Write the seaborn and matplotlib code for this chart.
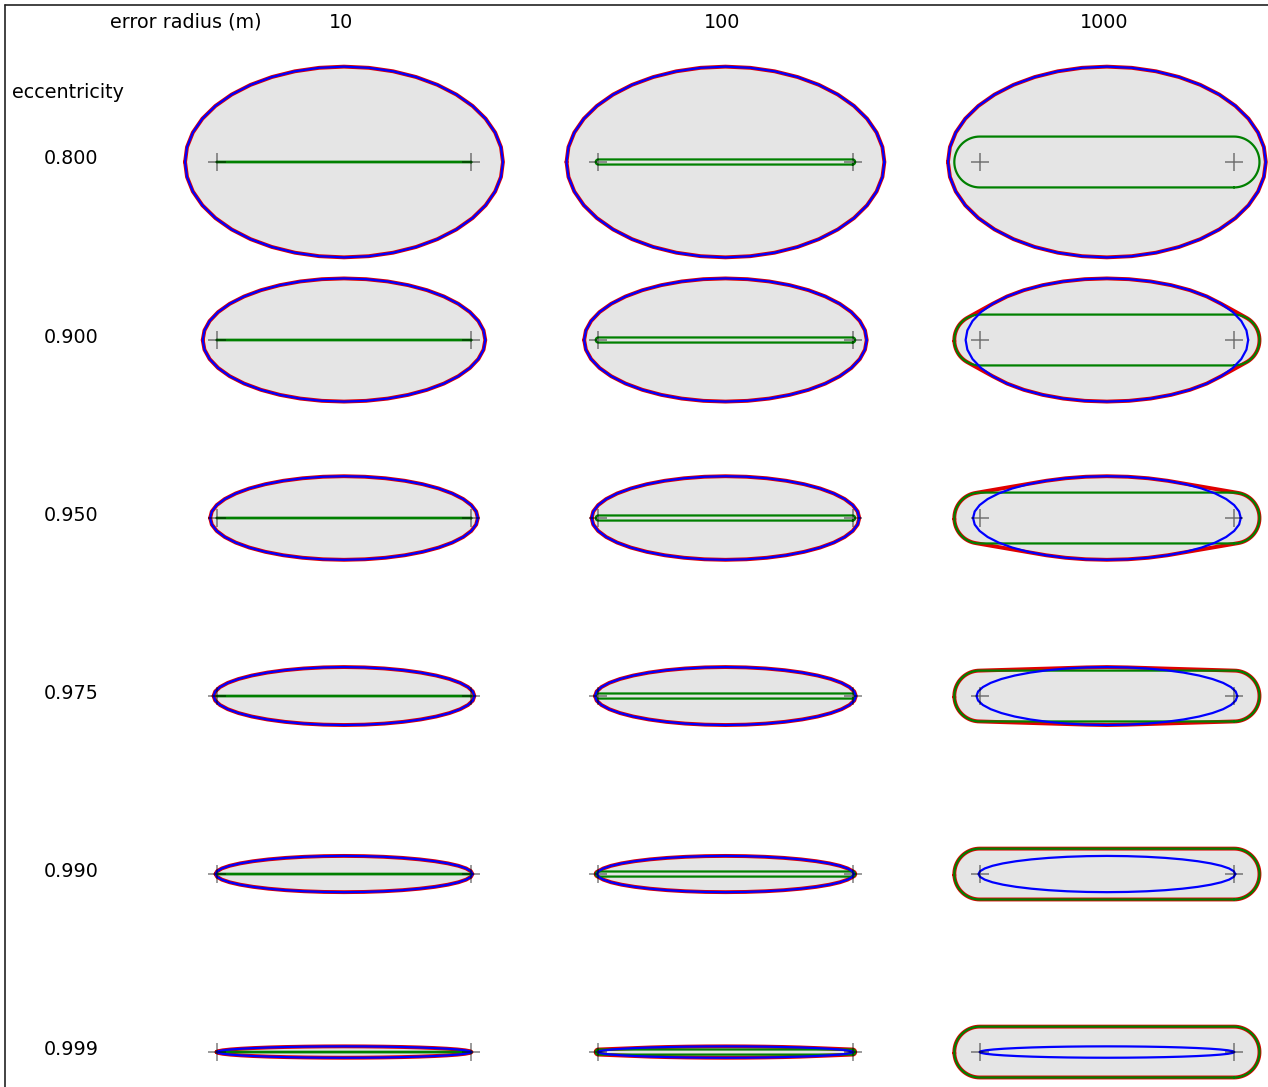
import numpy as np
import pandas as pd
import matplotlib
matplotlib.use("Agg")
import matplotlib.pyplot as plt
from matplotlib.lines import Line2D
import seaborn as sns

# Grid parameters (metres)
eccentricities = [0.800, 0.900, 0.950, 0.975, 0.990, 0.999]
error_radii = [10, 100, 1000]
focal_half_distance = 5000.0
col_spacing = 15000.0
row_spacing = 7000.0

sns.set_theme(style="white")
plt.rcParams["font.family"] = ["DejaVu Sans"]
plt.rcParams["text.color"] = "black"

W, H, DPI = 1268, 1087, 100
fig = plt.figure(figsize=(W / DPI, H / DPI), dpi=DPI)
ax = fig.add_axes([0, 0, 1, 1])

# pixel <-> metre mapping (equal aspect)
scale = 0.02543          # px per metre
x0_px, y0_px = 344.0, 162.0
ax.set_xlim(-x0_px / scale, (W - x0_px) / scale)
ax.set_ylim(-(H - y0_px) / scale, y0_px / scale)
ax.set_axis_off()


def px(xp, yp):
    return (xp - x0_px) / scale, (y0_px - yp) / scale


def convex_hull(points):
    pts = sorted(set(map(tuple, np.round(points, 6))))
    def cross(o, a, b):
        return (a[0] - o[0]) * (b[1] - o[1]) - (a[1] - o[1]) * (b[0] - o[0])
    lower, upper = [], []
    for p in pts:
        while len(lower) >= 2 and cross(lower[-2], lower[-1], p) <= 0:
            lower.pop()
        lower.append(p)
    for p in reversed(pts):
        while len(upper) >= 2 and cross(upper[-2], upper[-1], p) <= 0:
            upper.pop()
        upper.append(p)
    hull = np.array(lower[:-1] + upper[:-1])
    return np.vstack([hull, hull[:1]])


def ellipse_ring(c, e, n=40):
    a = c / e
    b = a * np.sqrt(1 - e ** 2)
    t = np.linspace(0, 2 * np.pi, n + 1)
    return np.column_stack([a * np.cos(t), b * np.sin(t)])


def stadium_ring(c, r, n=40):
    t1 = np.linspace(-np.pi / 2, np.pi / 2, n)
    t2 = np.linspace(np.pi / 2, 3 * np.pi / 2, n)
    right = np.column_stack([c + r * np.cos(t1), r * np.sin(t1)])
    left = np.column_stack([-c + r * np.cos(t2), r * np.sin(t2)])
    ring = np.vstack([right, left])
    return np.vstack([ring, ring[:1]])


foci_rows = []
for i, e in enumerate(eccentricities):
    cy = -i * row_spacing
    for j, r in enumerate(error_radii):
        cx = j * col_spacing
        ell = ellipse_ring(focal_half_distance, e)
        sta = stadium_ring(focal_half_distance, r)
        hull = convex_hull(np.vstack([ell, sta]))
        ax.fill(hull[:, 0] + cx, hull[:, 1] + cy, color="#e5e5e5", lw=0, zorder=1)
        ax.plot(hull[:, 0] + cx, hull[:, 1] + cy, color="#e00000", lw=2.8, zorder=2)
        ax.plot(sta[:, 0] + cx, sta[:, 1] + cy, color="green", lw=1.6, zorder=3)
        ax.plot(ell[:, 0] + cx, ell[:, 1] + cy, color="blue", lw=1.6, zorder=4)
        for sx in (-1, 1):
            foci_rows.append({"x": cx + sx * focal_half_distance, "y": cy})

foci = pd.DataFrame(foci_rows)
sns.scatterplot(data=foci, x="x", y="y", marker="+", s=170, color="black",
                alpha=0.5, linewidth=1.1, ax=ax, zorder=5, legend=False)

# Header texts
fs = 13.8
ax.text(*px(186, 22), "error radius (m)", ha="center", va="center", fontsize=fs)
for j, r in enumerate(error_radii):
    xp = x0_px + j * col_spacing * scale - 3
    ax.text(*px(xp, 22), f"{r}", ha="center", va="center", fontsize=fs)
ax.text(*px(12, 92), "eccentricity", ha="left", va="center", fontsize=fs)
for i, e in enumerate(eccentricities):
    yp = y0_px + i * row_spacing * scale - 3
    ax.text(*px(71, yp), f"{e:.3f}", ha="center", va="center", fontsize=fs)

# Frame lines on the left and top
fig.add_artist(Line2D([4.5 / W, 4.5 / W], [0, 1 - 4.5 / H], color="#222222",
                      lw=1.2, transform=fig.transFigure))
fig.add_artist(Line2D([4.5 / W, 1], [1 - 4.5 / H, 1 - 4.5 / H], color="#222222",
                      lw=1.2, transform=fig.transFigure))

fig.savefig("out.png", dpi=DPI)
